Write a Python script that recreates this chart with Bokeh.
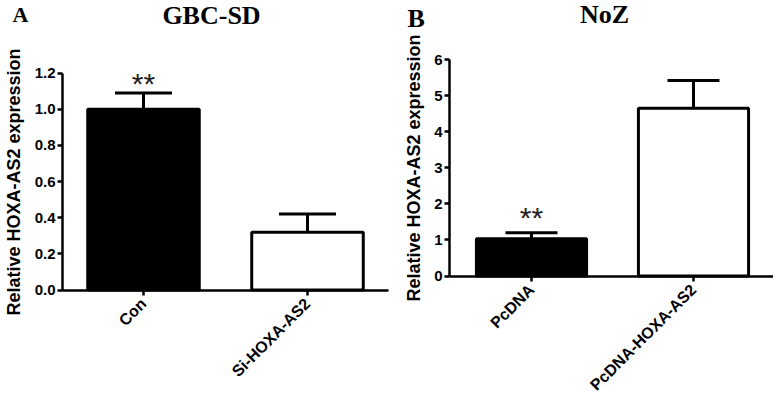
import math
from bokeh.plotting import figure
from bokeh.models import (Range1d, FixedTicker, Whisker, TeeHead, LinearAxis,
                          ColumnDataSource, Label, PrintfTickFormatter)
from bokeh.embed import file_html
from bokeh.resources import INLINE
from bokeh.core.properties import value

# ---- data ----
cats_a = ["Con", "Si-HOXA-AS2"]
vals_a = [1.0, 0.32]
err_a = [0.09, 0.10]
yticks_a = [0.0, 0.2, 0.4, 0.6, 0.8, 1.0, 1.2]

cats_b = ["PcDNA", "PcDNA-HOXA-AS2"]
vals_b = [1.03, 4.65]
err_b = [0.17, 0.77]
yticks_b = [0, 1, 2, 3, 4, 5, 6]

bar_colors = ["black", "white"]
ylabel = "Relative HOXA-AS2 expression"
titles = ["GBC-SD", "NoZ"]
letters = ["A", "B"]
stars = ["**", "**"]
star_y = [1.143, 1.635]

SANS = "Liberation Sans"
SERIF = "Liberation Serif"

W, H = 773, 397

# One canvas, two panels, each with its own x/y ranges (pixel-calibrated).
p = figure(width=W, height=H, output_backend="svg", toolbar_location=None,
           x_axis_type=None, y_axis_type=None,
           x_range=Range1d(-0.87195, -0.87195 + W / 164.0),
           y_range=Range1d(-(H - 289.5) / 180.67, 289.5 / 180.67),
           min_border_left=0, min_border_right=0, min_border_top=0, min_border_bottom=0)
p.extra_x_ranges = {"b": Range1d(-531 / 162.0, -531 / 162.0 + W / 162.0)}
p.extra_y_ranges = {"b": Range1d(-(H - 275.5) / 36.083, 275.5 / 36.083)}
p.outline_line_color = None
p.grid.visible = False
p.background_fill_color = "white"
p.border_fill_color = "white"


def panel(cats, vals, errs, yticks, fmt, rn, yaxis_x, xaxis_end, label_standoff, cap,
          star, sy):
    kw = {} if rn is None else dict(x_range_name=rn, y_range_name=rn)
    idx = list(range(len(cats)))
    src = ColumnDataSource(dict(x=idx, top=vals, upper=[v + e for v, e in zip(vals, errs)],
                                color=bar_colors))
    p.vbar(x="x", top="top", bottom=0, width=0.68, fill_color="color",
           line_color="black", line_width=3, source=src, **kw)
    wh = Whisker(base="x", lower="top", upper="upper", source=src,
                 line_color="black", line_width=3, lower_head=None,
                 upper_head=TeeHead(size=cap, line_color="black", line_width=3), **kw)
    p.add_layout(wh)
    p.text(x=[idx[0]], y=[sy], text=[star], text_font=value(SANS),
           text_font_size="30px", text_align="center", text_baseline="alphabetic",
           text_color="#222222", **kw)

    yax = LinearAxis(fixed_location=yaxis_x, bounds=(yticks[0], yticks[-1]),
                     ticker=FixedTicker(ticks=yticks),
                     formatter=PrintfTickFormatter(format=fmt), **kw)
    xax = LinearAxis(fixed_location=0, bounds=(yaxis_x, xaxis_end),
                     ticker=FixedTicker(ticks=idx),
                     major_label_overrides={i: c for i, c in zip(idx, cats)}, **kw)
    for ax in (xax, yax):
        ax.axis_line_width = 2.5
        ax.axis_line_color = "black"
        ax.major_tick_line_width = 2.5
        ax.major_tick_line_color = "black"
        ax.major_tick_out = 5
        ax.major_tick_in = 0
        ax.minor_tick_line_color = None
        ax.major_label_text_font = SANS
        ax.major_label_text_font_style = "bold"
        ax.major_label_text_color = "black"
        ax.major_label_standoff = 2
    yax.major_label_text_font_size = "15px"
    yax.axis_label = ylabel
    yax.axis_label_text_font = SANS
    yax.axis_label_text_font_style = "bold"
    yax.axis_label_text_font_size = "18px"
    yax.axis_label_text_color = "black"
    yax.axis_label_standoff = label_standoff

    xax.major_label_orientation = math.pi / 4
    xax.major_label_text_font_size = "16px"
    xax.major_label_standoff = 6

    p.add_layout(yax, "left")
    p.add_layout(xax, "below")


# Panel A: y axis at px 62, x axis to px 388
panel(cats_a, vals_a, err_a, yticks_a, "%.1f", None, (62 - 143) / 164.0, (388 - 143) / 164.0,
      8, 57, stars[0], star_y[0])
# Panel B: y axis at px 449, x axis to px 773
panel(cats_b, vals_b, err_b, yticks_b, "%d", "b", (449 - 531) / 162.0, (773 - 531) / 162.0,
      7, 52, stars[1], star_y[1])

for txt, x, y, size, align in [(letters[0], 12, H - 14, "22px", "left"),
                               (titles[0], 211, H - 15, "26px", "center"),
                               (letters[1], 407, H - 18, "26px", "left"),
                               (titles[1], 604, H - 14, "26px", "center")]:
    p.add_layout(Label(x=x, y=y, x_units="screen", y_units="screen", text=txt,
                       text_font=SERIF, text_font_style="bold", text_font_size=size,
                       text_color="black", text_align=align, text_baseline="alphabetic"))

open("out.html", "w").write(file_html(p, INLINE))
